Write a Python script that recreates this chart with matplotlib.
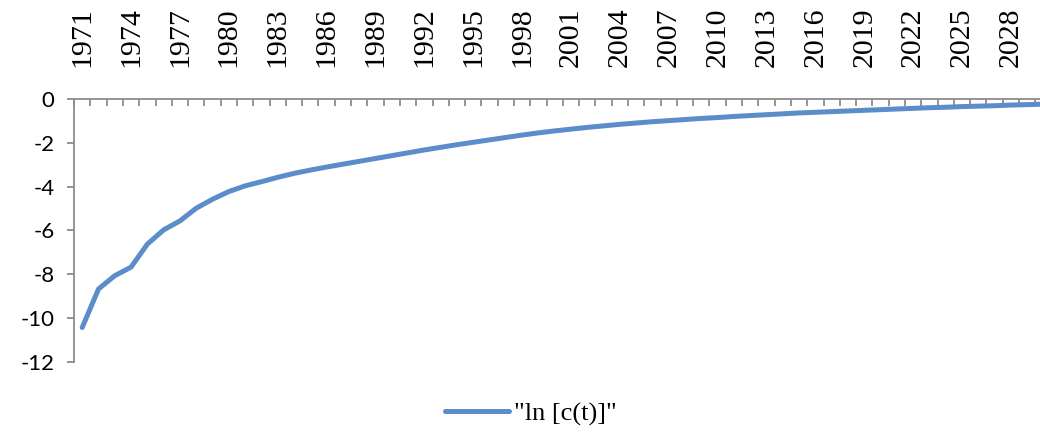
import numpy as np
import matplotlib
matplotlib.use("Agg")
from matplotlib import pyplot as plt

# yearly series, 1971-2030
years = list(range(1971, 2031))
ln_ct = [-10.44, -8.68, -8.07, -7.68, -6.63, -5.98, -5.57, -4.99, -4.58, -4.23,
         -3.97, -3.78, -3.58, -3.40, -3.25, -3.11, -2.98, -2.85, -2.72, -2.59,
         -2.46, -2.33, -2.21, -2.09, -1.98, -1.87, -1.76, -1.65, -1.55, -1.46,
         -1.38, -1.30, -1.23, -1.16, -1.10, -1.04, -0.99, -0.94, -0.89, -0.85,
         -0.80, -0.76, -0.72, -0.68, -0.64, -0.61, -0.58, -0.55, -0.52, -0.49,
         -0.46, -0.43, -0.40, -0.38, -0.35, -0.33, -0.31, -0.28, -0.26, -0.24]
series_name = '"ln [c(t)]"'
y_ticks = [0, -2, -4, -6, -8, -10, -12]

line_color = "#5A8DCA"
axis_color = "#8C8C8C"

fig = plt.figure(figsize=(10.4, 4.32), dpi=100)
# plot area runs a little past the right edge of the canvas
ax = fig.add_axes([0.0712, 0.1627, 0.940, 0.6083])

x = np.arange(len(years))
ax.plot(x, ln_ct, color=line_color, lw=3.6, solid_capstyle="round",
        solid_joinstyle="round", label=series_name)

ax.set_xlim(-0.5, len(years) - 0.5)
ax.set_ylim(-12, 0)

for side in ("right", "bottom"):
    ax.spines[side].set_visible(False)
for side in ("top", "left"):
    ax.spines[side].set_color(axis_color)
    ax.spines[side].set_linewidth(1.3)

# category axis along the top: tick marks between years, labels every 3rd year
ax.xaxis.set_ticks_position("top")
ax.set_xticks(np.arange(-0.5, len(years), 1.0))
ax.set_xticklabels([])
ax.tick_params(axis="x", which="major", direction="in", length=5,
               width=1.3, color=axis_color)
ax.set_xticks(x[::3], minor=True)
ax.set_xticklabels([str(y) for y in years[::3]], minor=True, rotation=90,
                   fontsize=21.5, family="Liberation Serif")
ax.tick_params(axis="x", which="minor", length=0, pad=23, top=True,
               bottom=False, labeltop=True, labelbottom=False)

ax.set_yticks(y_ticks)
ax.set_yticklabels([str(v) for v in y_ticks], fontsize=16, family="Lato")
ax.tick_params(axis="y", direction="out", length=5, width=1.3,
               color=axis_color, pad=9)

fig.legend(loc="center", bbox_to_anchor=(531 / 1040, 1 - 414 / 432),
           frameon=False, handlelength=2.4, handletextpad=0.2,
           prop={"family": "Liberation Serif", "size": 19})

fig.savefig("out.png", dpi=100)
